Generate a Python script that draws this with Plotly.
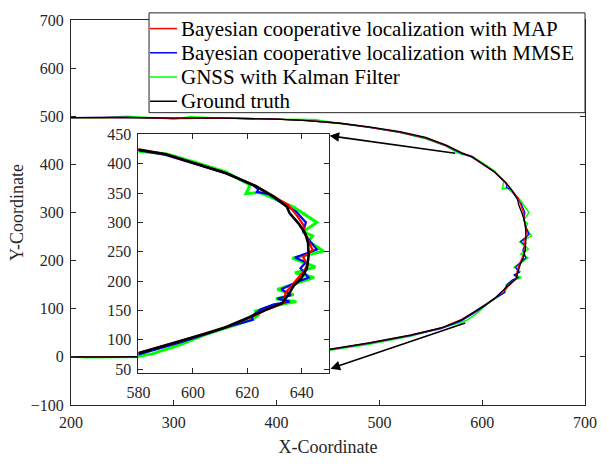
import plotly.graph_objects as go

# Ground-truth trajectory (clockwise from the top-left)
x_gt = [200, 250, 300, 350, 400, 430, 460, 490, 520, 545, 565, 580, 590, 601, 612,
        623, 630, 634.5, 635.5, 639, 641.3, 642.3, 642.5, 641.9, 639.9, 637, 635.2,
        632.7, 626.7, 620.5, 612, 604.7, 594.9, 580, 560, 530, 490, 452, 420, 380,
        330, 280, 240, 200]
y_gt = [497, 497, 496, 496, 494, 491, 486, 478, 468, 456, 440, 424, 416, 400, 384,
        362, 343, 326.5, 316, 297, 281, 265, 243, 222, 205.5, 192, 178,
        162, 151, 138, 121.5, 110.6, 97, 77, 60, 45, 29, 16, 9, 5,
        2, 0.5, 0, 0]

# Bayesian cooperative localization, MAP estimate
x_map = [200, 250, 300, 350, 400, 430, 460, 490, 520, 545, 565, 580, 590, 601, 612,
         623, 630, 635, 638.5, 640.5, 641, 642.5, 644, 640.5, 642, 641, 638.5, 636,
         634, 633.5, 627, 621, 612, 605, 595, 580, 560, 530, 490, 452, 420, 380,
         330, 280, 240, 200]
y_map = [497, 497.5, 495.5, 496, 494, 491, 486, 477.5, 467, 455, 439, 424, 416, 400, 384,
         362, 344, 330, 310, 296, 282, 268, 253, 241, 228, 218, 205, 192,
         180, 163, 151, 138, 121, 111, 97, 78, 60, 45, 29, 15.5, 9, 5,
         2, 0.5, 0, 0]

# Bayesian cooperative localization, MMSE estimate
x_mmse = [200, 250, 300, 350, 400, 430, 460, 490, 520, 545, 565, 580, 590, 601, 612,
          622, 624, 623.5, 628, 632, 638, 641.5, 640.5, 643, 645.5, 637.5, 641.5,
          639.5, 642.5, 637, 632.5, 636, 631, 635.5, 629.5, 625, 621.5, 622, 612,
          605, 595, 580, 560, 530, 490, 452, 420, 380, 330, 280, 240, 200]
y_mmse = [497, 498, 495, 496, 494, 491, 485.5, 477, 466.5, 454.5, 438.5, 423, 415, 400, 384,
          364, 356, 352, 348, 335, 318, 300, 284, 268, 254, 240, 232,
          222, 206, 196, 186, 176, 170, 165, 160, 152, 140, 134, 121,
          110, 95, 75, 58.5, 44, 28, 15, 8.5, 4.5, 1.5, 0, -0.5, -0.5]

# GNSS positions smoothed with a Kalman filter
x_gnss = [200, 230, 255, 280, 300, 316, 350, 400, 437, 460, 490, 520, 545, 565, 575,
          580, 590, 601, 612, 621, 619.5, 624.5, 630, 637, 645.5, 640.5, 644, 642.5,
          648, 636.5, 645, 637.5, 644.5, 631, 637, 630.5, 638, 630.5, 623, 624,
          621.5, 611, 604.5, 595, 585, 580, 570, 530, 490, 452, 420, 380, 330,
          280, 240, 215, 200]
y_gnss = [497, 497, 500, 497, 494.5, 499, 496, 494, 493, 485, 477, 466, 453, 438, 425,
          421, 417, 402, 386, 364, 349, 351, 340, 326, 300, 284, 277, 268,
          251, 239, 224, 214, 206, 186, 177, 170, 165, 159, 149, 142,
          134, 118, 109, 91, 76, 72, 66, 43, 26, 14, 7.5, 4, 1,
          -1, -1, -2, 0]

# Main axis ticks
x_ticks = [200, 300, 400, 500, 600, 700]
y_ticks = [-100, 0, 100, 200, 300, 400, 500, 600, 700]
# Zoomed inset ticks
x2_ticks = [580, 600, 620, 640]
y2_ticks = [50, 100, 150, 200, 250, 300, 350, 400, 450]

FONT = "Liberation Serif"
AX = "#262626"

series = [
    # name, x, y, colour, main width, inset width
    ("GNSS with Kalman Filter", x_gnss, y_gnss, "#00ff00", 1.5, 3.0),
    ("Bayesian cooperative localization with MMSE", x_mmse, y_mmse, "#0000ff", 1.3, 2.2),
    ("Bayesian cooperative localization with MAP", x_map, y_map, "#ff0000", 1.3, 2.2),
    ("Ground truth", x_gt, y_gt, "#000000", 1.3, 2.6),
]
legend_order = [
    "Bayesian cooperative localization with MAP",
    "Bayesian cooperative localization with MMSE",
    "GNSS with Kalman Filter",
    "Ground truth",
]

fig = go.Figure()
for name, xs, ys, col, w_main, _ in series:
    fig.add_trace(go.Scatter(x=xs, y=ys, mode="lines", name=name,
                             line=dict(color=col, width=w_main),
                             xaxis="x", yaxis="y"))
for name, xs, ys, col, _, w_in in series:
    fig.add_trace(go.Scatter(x=xs, y=ys, mode="lines", name=name,
                             line=dict(color=col, width=w_in),
                             xaxis="x2", yaxis="y2"))

axis_common = dict(showline=True, linecolor=AX, linewidth=1, mirror="allticks",
                   ticks="inside", tickcolor=AX, ticklen=5, showgrid=False,
                   zeroline=False, tickfont=dict(family=FONT, size=16, color=AX))

fig.update_layout(
    width=609, height=466,
    margin=dict(l=71, r=24, t=12, b=49),
    paper_bgcolor="white", plot_bgcolor="white",
    font=dict(family=FONT, color=AX),
    showlegend=False,
    xaxis=dict(range=[200, 700], tickvals=x_ticks, domain=[0, 1], ticklabelstandoff=3,
               title=dict(text="X-Coordinate", font=dict(family=FONT, size=18, color=AX), standoff=10),
               **axis_common),
    yaxis=dict(range=[-100, 700], tickvals=y_ticks, domain=[0, 1], ticklabelstandoff=3,
               title=dict(text="Y-Coordinate", font=dict(family=FONT, size=18, color=AX), standoff=2),
               **axis_common),
    xaxis2=dict(range=[580, 650], tickvals=x2_ticks, domain=[0.1313, 0.502],
                anchor="y2", ticklabelstandoff=5, **axis_common),
    yaxis2=dict(range=[43.5, 450], tickvals=y2_ticks, domain=[0.0832, 0.703],
                anchor="x2", ticklabelstandoff=3, **axis_common),
)

# Legend box drawn in paper coordinates, overlapping the top of the axes
colours = {s[0]: s[3] for s in series}
box_l, box_r, box_t, box_b = 0.1518, 1.0, 1.0185, 0.7593
row_y = [0.9778, 0.9148, 0.8519, 0.7889]
fig.add_shape(type="rect", xref="paper", yref="paper", x0=box_l, x1=box_r, y0=box_b, y1=box_t,
              fillcolor="white", line=dict(color=AX, width=1), layer="above")
for name, ry in zip(legend_order, row_y):
    fig.add_shape(type="line", xref="paper", yref="paper", x0=0.1537, x1=0.2062, y0=ry, y1=ry,
                  line=dict(color=colours[name], width=1.5), layer="above")
    fig.add_annotation(x=0.2101, y=ry, xref="paper", yref="paper", text=name, showarrow=False,
                       xanchor="left", yanchor="middle",
                       font=dict(family=FONT, size=21, color="#000000"))

# Arrows from the zoomed part of the path to the inset corners
arrows = [((575.2, 422.7), (451.5, 459.5)), ((584.9, 71.6), (452.5, -24.5))]
for (tx, ty), (hx, hy) in arrows:
    fig.add_annotation(x=hx, y=hy, ax=tx, ay=ty, xref="x", yref="y", axref="x", ayref="y",
                       showarrow=True, arrowhead=2, arrowsize=1.2, arrowwidth=1.6,
                       arrowcolor="#000000", text="")

fig.write_html("out.html")
